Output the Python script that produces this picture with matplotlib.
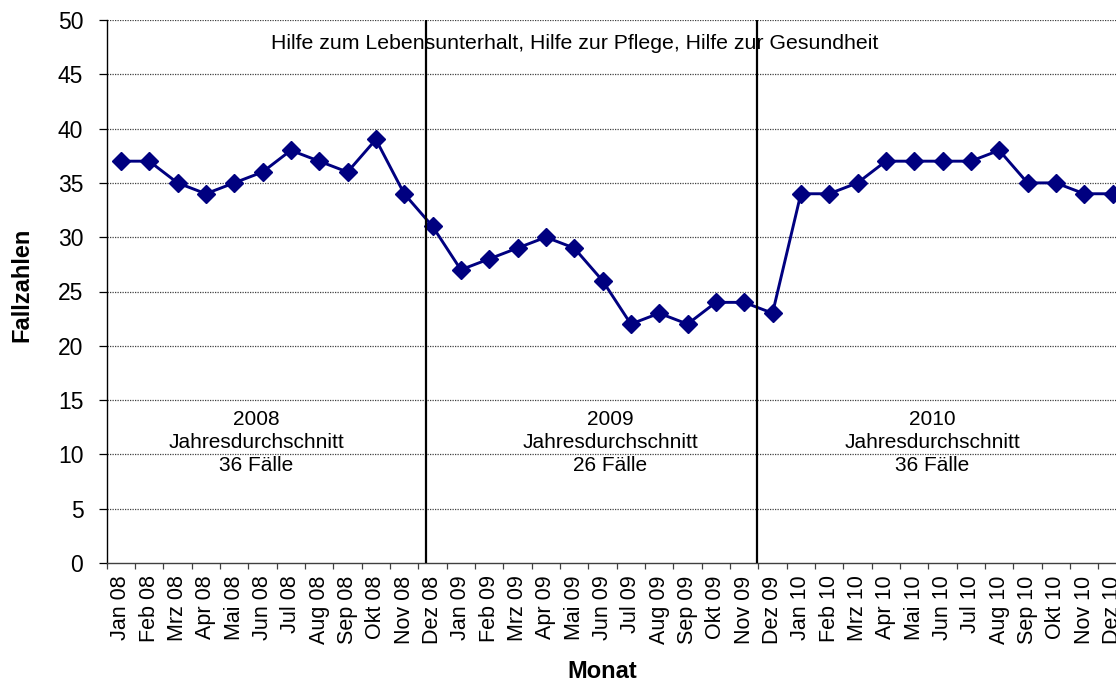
#!/usr/bin/env python3
"""Fallzahlen je Monat 2008-2010 (Hilfe zum Lebensunterhalt, Pflege, Gesundheit)."""
import matplotlib
matplotlib.use("Agg")
import matplotlib.pyplot as plt  # noqa: E402

MONTHS = ["Jan", "Feb", "Mrz", "Apr", "Mai", "Jun",
          "Jul", "Aug", "Sep", "Okt", "Nov", "Dez"]
YEARS = ["08", "09", "10"]
CATEGORIES = [f"{m} {y}" for y in YEARS for m in MONTHS]

CASES_2008 = [37, 37, 35, 34, 35, 36, 38, 37, 36, 39, 34, 31]
CASES_2009 = [27, 28, 29, 30, 29, 26, 22, 23, 22, 24, 24, 23]
CASES_2010 = [34, 34, 35, 37, 37, 37, 37, 38, 35, 35, 34, 34]
CASES = CASES_2008 + CASES_2009 + CASES_2010

YEAR_LABELS = ["2008", "2009", "2010"]
YEAR_AVG = [36, 26, 36]
TITLE = "Hilfe zum Lebensunterhalt, Hilfe zur Pflege, Hilfe zur Gesundheit"

LINE_COLOR = "#000080"
FONT = "Liberation Sans"
W, H = 1116, 683


def _plot(path):
    plt.rcParams["font.family"] = [FONT, "DejaVu Sans"]
    fig = plt.figure(figsize=(W / 100, H / 100), dpi=100)
    # plot area runs past the right edge, like the cropped original
    ax = fig.add_axes([106.7 / W, 120 / H, 1020 / W, 543 / H])

    x = list(range(len(CATEGORIES)))
    ax.set_xlim(-0.5, len(CATEGORIES) - 0.5)
    ax.set_ylim(0, 50)

    for y in range(5, 55, 5):
        ax.axhline(y, color="#404040", linewidth=0.9, linestyle=(0, (1, 1)),
                   zorder=1)

    # year separators
    for xs in (10.76, 22.45):
        ax.plot([xs, xs], [0, 50], color="black", linewidth=1.6, zorder=4,
                solid_capstyle="butt")

    ax.plot(x, CASES, color=LINE_COLOR, linewidth=2.1, marker="D",
            markersize=9.5, markerfacecolor=LINE_COLOR,
            markeredgecolor=LINE_COLOR, zorder=3, clip_on=False)

    ax.text(16.0, 47.8, TITLE, ha="center", va="center", fontsize=15.3,
            zorder=2)
    for xc, lab, avg in zip((4.78, 17.27, 28.65), YEAR_LABELS, YEAR_AVG):
        ax.text(xc, 11.1, f"{lab}\nJahresdurchschnitt\n{avg} Fälle",
                ha="center", va="center", fontsize=15, linespacing=1.28,
                zorder=2)

    ax.set_yticks(range(0, 55, 5))
    ax.tick_params(axis="y", direction="out", length=5.8, width=0.9,
                   pad=11, labelsize=16.5)

    ax.set_xticks(x)
    ax.set_xticklabels(CATEGORIES, rotation=90, fontsize=15.5)
    ax.set_xticks([i - 0.5 for i in range(len(CATEGORIES) + 1)], minor=True)
    ax.tick_params(axis="x", which="major", length=0, pad=9)
    ax.tick_params(axis="x", which="minor", direction="out", length=4.3,
                   width=0.9, color="#404040")

    for side in ("top", "right"):
        ax.spines[side].set_visible(False)
    ax.spines["left"].set_linewidth(1.0)
    ax.spines["left"].set_color("black")
    ax.spines["bottom"].set_linewidth(1.0)
    ax.spines["bottom"].set_color("#404040")

    fig.text(22 / W, 1 - 285 / H, "Fallzahlen", rotation=90, ha="center",
             va="center", fontsize=17, fontweight="bold")
    fig.text(602 / W, 1 - 672 / H, "Monat", ha="center", va="center",
             fontsize=17, fontweight="bold")

    fig.savefig(path, dpi=100)
    plt.close(fig)


if __name__ == "__main__":
    _plot("out.png")
